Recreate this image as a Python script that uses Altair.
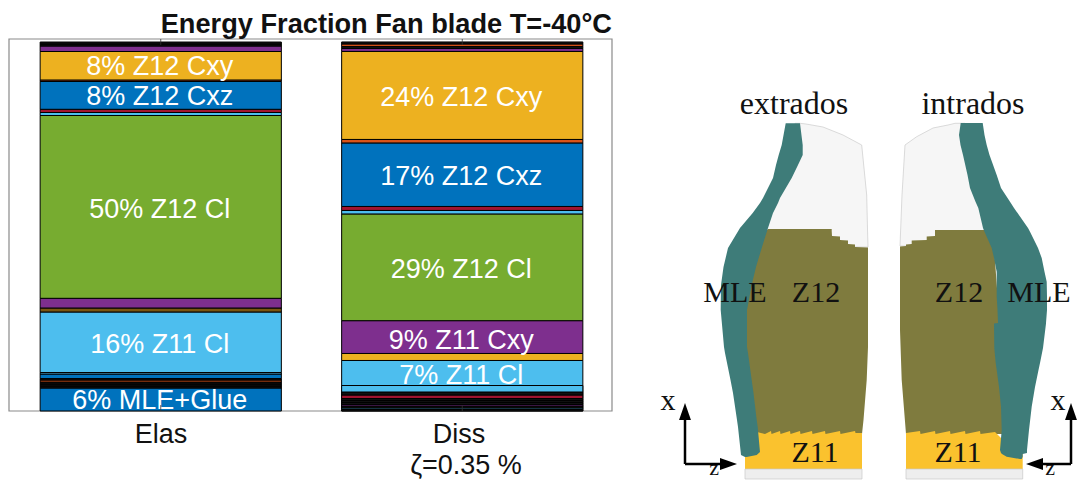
import altair as alt
import pandas as pd

FONT = "Liberation Sans"
SERIF = "Liberation Serif"

palette = {
    "blue": "#0072BD", "orange": "#D95319", "yellow": "#EDB120", "purple": "#7E2F8E",
    "green": "#77AC30", "sky": "#4DBEEE", "red": "#A2142F", "dark": "#111111", "brown": "#7A5510",
}

# stacked energy fractions, bottom to top (percent)
elas_values = [6.23, .54, .54, .54, .54, .41, 1.22, .41, 16.4, 1.08, 2.63, 49.54, .81, .87, 7.53, .41, 7.72, 1.49, .54, .54]
elas_colors = ["blue", "dark", "dark", "dark", "orange", "dark", "blue", "sky", "sky", "brown", "purple", "green", "sky", "red", "blue", "orange", "yellow", "purple", "dark", "dark"]
diss_values = [.41, .41, .54, .41, .54, .54, .54, .95, .81, 1.76, 6.78, 1.9, 8.89, 28.92, .95, 1.08, 17.21, .95, 23.85, .81, .54, .68, .54]
diss_colors = ["dark", "sky", "dark", "purple", "dark", "dark", "dark", "red", "dark", "sky", "sky", "yellow", "purple", "green", "sky", "red", "blue", "orange", "yellow", "purple", "dark", "orange", "dark"]

label_cat = ["Elas"] * 5 + ["Diss"] * 5
label_text = ["8% Z12 Cxy", "8% Z12 Cxz", "50% Z12 Cl", "16% Z11 Cl", "6% MLE+Glue",
              "24% Z12 Cxy", "17% Z12 Cxz", "29% Z12 Cl", "9% Z11 Cxy", "7% Z11 Cl"]
label_pos = [93.5, 85.4, 55.0, 18.4, 3.25, 85.1, 63.7, 38.75, 19.5, 10.0]


def segments(cat, values, colors):
    rows, base = [], 0.0
    for i, (v, c) in enumerate(zip(values, colors)):
        rows.append({"cat": cat, "i": i, "y0": base, "y1": base + v, "col": palette[c]})
        base += v
    return rows


bars = pd.DataFrame(segments("Elas", elas_values, elas_colors) + segments("Diss", diss_values, diss_colors))
over = bars[(bars.cat == "Diss") & (bars.i < 10)]
labels = pd.DataFrame({"cat": label_cat, "t": label_text, "p": label_pos})
ticks = pd.DataFrame({"cat": ["Elas", "Elas", "Diss", "Diss"], "a": [0, 100.81, 0, 100.81], "b": [1.6, 99.2, 1.6, 99.2]})

CAT = alt.Scale(domain=["Elas", "Diss"], range=[2, 605], paddingInner=0.2, paddingOuter=0.1)
PCT = alt.Scale(domain=[0, 100.81], range=[403, 31], nice=False, zero=False)
xs = alt.X("cat:N", scale=CAT, axis=None)


def pct(f):
    return alt.Y(f, scale=PCT, axis=None)


def bar_layer(d):
    return alt.Chart(d).mark_bar(stroke="#000", strokeWidth=1).encode(
        x=xs, y=pct("y0:Q"), y2="y1:Q", fill=alt.Fill("col:N", scale=None))


left = alt.layer(
    bar_layer(bars),
    alt.Chart(labels).mark_text(color="white", font=FONT, fontSize=27, dy=1.5, dx=-1).encode(
        x=xs, y=pct("p:Q"), text="t:N"),
    bar_layer(over),
    alt.Chart(ticks).mark_rule(color="#333", strokeWidth=0.8).encode(
        x=xs, y=pct("a:Q"), y2="b:Q"),
)

# ---- frame, captions and blade illustration in picture units ----
TEAL, OLIVE, GOLD, MESH = "#3E7C79", "#7F7B3E", "#FAC22E", "#F6F6F6"

frame_a, frame_b, frame_t, frame_u = [9], [612], [39], [411]

title_text, title_x, title_y = ["Energy Fraction Fan blade T=-40°C"], [612], [25]

cap_t = ["Elas", "Diss", "ζ=0.35 %"]
cap_x = [161, 459, 466]
cap_y = [435, 435, 466]

ext_teal_y = [123.3, 145, 155, 165, 178, 198, 203, 213, 228, 248, 267, 285, 310, 347, 353, 380, 393, 420, 427, 452, 455, 457]
ext_teal_a = [785.7, 781.7, 778.7, 776, 773, 763, 760, 752.7, 740, 728, 723.5, 721, 720.7, 724, 725, 730.5, 733, 737, 738, 740.7, 741, 745]
ext_teal_b = [800, 802.7, 802.7, 798, 791.7, 780, 778, 773, 768, 761.7, 756, 751.7, 747, 747, 748, 751.7, 753.5, 756.7, 757.7, 760, 756.7, 746.7]

ext_white_y = [123.3, 124, 127, 135, 145, 195, 229, 247]
ext_white_a = [795, 795, 795, 795, 795, 775, 765, 765]
ext_white_b = [800, 806, 823, 843, 861.7, 866.7, 867.5, 868]

ext_olive_y = [229, 231, 236, 236.5, 240, 240.5, 244, 244.5, 247, 247.5, 285, 347, 380, 420, 434]
ext_olive_a = [768, 766, 764, 764, 762, 762, 760, 760, 755, 755, 745, 740, 745, 750, 752]
ext_olive_b = [831.7, 831.7, 832, 840, 840, 848, 848, 855, 855, 868, 868, 868, 866.7, 863.5, 862]

ext_gold_x = [745, 752, 757, 765, 771, 771.5, 780, 780.5, 790, 790.5, 800, 800.5, 812, 812.5, 825, 825.5, 840, 840.5, 855, 855.5, 862]
ext_gold_y = [450, 440, 432, 434, 431, 434, 431, 434, 431, 434, 431, 434, 431, 434, 431, 434, 431, 434, 431, 433, 433]

int_teal_y = [123, 135, 145, 155, 175, 188, 201.7, 208, 228, 231.7, 248, 258, 271.7, 281.7, 296.7, 310, 323, 323.5, 348, 363, 370, 387, 406.7, 430, 450, 453, 454, 456.7, 459]
int_teal_a = [960.7, 959, 960.5, 963, 967.5, 970, 975.5, 978.3, 983, 984.5, 991.7, 994, 996.7, 996.7, 996.7, 997.5, 998, 994, 994.3, 995.7, 996.7, 999, 1001, 1001.7, 1000, 1001, 1002, 1006.7, 1020]
int_teal_b = [982.7, 984.5, 986.7, 989.5, 996.7, 1001, 1010, 1014, 1028, 1030, 1038, 1041.7, 1044.5, 1046.7, 1047, 1047, 1046, 1046, 1043, 1040, 1038.5, 1035, 1031.7, 1029, 1027, 1027, 1022.7, 1022.7, 1021.7]

int_white_y = [123.3, 125, 128, 136.7, 145, 195, 246]
int_white_a = [955, 948, 933, 916.7, 905, 902, 900]
int_white_b = [965, 965, 965, 965, 970, 978, 990]

int_olive_y = [230, 236, 236.5, 240, 240.5, 244, 244.5, 246, 246.5, 330, 380, 434]
int_olive_a = [935, 935, 926.7, 926.7, 911.7, 911.7, 906, 906, 900, 900, 901.7, 906]
int_olive_b = [985, 988, 988, 990, 990, 992, 992, 994, 994, 1000, 1003, 1005]

int_gold_x = [906, 920, 920.5, 935, 935.5, 950, 950.5, 965, 965.5, 980, 980.5, 995, 1003, 1022.7]
int_gold_y = [433, 431, 434, 431, 434, 431, 434, 431, 434, 431, 434, 432, 440, 450]

strip_a, strip_b, strip_top, strip_bottom = [745, 906], [862, 1022.7], [469, 469], [479, 479]

big_t, big_x, big_y = ["extrados", "intrados"], [794, 973], [104, 104]
text_t = ["MLE", "Z12", "Z12", "MLE", "Z11", "Z11", "x", "x"]
text_x = [735, 816, 959, 1039, 815, 958, 668, 1058]
text_y = [293, 293, 293, 293, 453, 453, 401, 401]
small_t, small_x, small_y = ["z", "z"], [714, 1050], [468, 468]

shaft_x = [685, 685, 1071, 1071]
shaft_x2 = [685, 722, 1071, 1041]
shaft_y = [464, 464, 464, 464]
shaft_y2 = [418, 464, 418, 464]

head_up_x, head_up_y = [685, 1071], [411.5, 411.5]
head_right_x, head_right_y = [728.5], [464]
head_left_x, head_left_y = [1034.5], [464]

PX = alt.Scale(domain=[8, 1077], range=[0, 1069], nice=False, zero=False)
PY = alt.Scale(domain=[480, 8], range=[472, 0], nice=False, zero=False)


def X(f):
    return alt.X(f, scale=PX, axis=None)


def Y(f):
    return alt.Y(f, scale=PY, axis=None)


def band(y, a, b, color, **kw):
    d = pd.DataFrame({"y": y, "a": a, "b": b})
    return alt.Chart(d).mark_area(orient="horizontal", color=color, **kw).encode(
        y=Y("y:Q"), x=X("a:Q"), x2="b:Q")


def gold(x, top):
    d = pd.DataFrame({"x": x, "t": top, "b": [469] * len(x)})
    return alt.Chart(d).mark_area(color=GOLD).encode(x=X("x:Q"), y=Y("t:Q"), y2="b:Q")


frame = alt.Chart(pd.DataFrame({"a": frame_a, "b": frame_b, "t": frame_t, "u": frame_u})).mark_rect(
    fill="white", stroke="#8a8a8a", strokeWidth=1.2).encode(x=X("a:Q"), x2="b:Q", y=Y("t:Q"), y2="u:Q")

strip = alt.Chart(pd.DataFrame({"a": strip_a, "b": strip_b, "t": strip_top, "u": strip_bottom})).mark_rect(
    fill="#EEEEEE", stroke="#C8C8C8", strokeWidth=0.7).encode(x=X("a:Q"), x2="b:Q", y=Y("t:Q"), y2="u:Q")

shafts = alt.Chart(pd.DataFrame({"a": shaft_x, "b": shaft_x2, "t": shaft_y, "u": shaft_y2})).mark_rule(
    color="#000", strokeWidth=2.5).encode(x=X("a:Q"), x2="b:Q", y=Y("t:Q"), y2="u:Q")


def head(x, y, path):
    return alt.Chart(pd.DataFrame({"x": x, "y": y})).mark_point(
        shape=path, size=289, filled=True, color="#000", opacity=1).encode(x=X("x:Q"), y=Y("y:Q"))


def serif(t, x, y, size):
    return alt.Chart(pd.DataFrame({"t": t, "x": x, "y": y})).mark_text(
        font=SERIF, fontSize=size, color="#111").encode(x=X("x:Q"), y=Y("y:Q"), text="t:N")


caps = alt.Chart(pd.DataFrame({"t": cap_t, "x": cap_x, "y": cap_y})).mark_text(
    font=FONT, fontSize=27, color="#111").encode(x=X("x:Q"), y=Y("y:Q"), text="t:N")
head_title = alt.Chart(pd.DataFrame({"t": title_text, "x": title_x, "y": title_y})).mark_text(
    font=FONT, fontSize=27.2, fontWeight="bold", color="#111", align="right").encode(x=X("x:Q"), y=Y("y:Q"), text="t:N")

under = alt.layer(frame, head_title, caps)

right = alt.layer(
    band(ext_white_y, ext_white_a, ext_white_b, MESH, stroke="#CCCCCC", strokeWidth=0.7),
    band(int_white_y, int_white_a, int_white_b, MESH, stroke="#CCCCCC", strokeWidth=0.7),
    band(ext_olive_y, ext_olive_a, ext_olive_b, OLIVE),
    band(int_olive_y, int_olive_a, int_olive_b, OLIVE),
    gold(ext_gold_x, ext_gold_y),
    gold(int_gold_x, int_gold_y),
    strip,
    band(ext_teal_y, ext_teal_a, ext_teal_b, TEAL),
    band(int_teal_y, int_teal_a, int_teal_b, TEAL),
    shafts,
    head(head_up_x, head_up_y, "M -0.7 1 L 0.7 1 L 0 -1 Z"),
    head(head_right_x, head_right_y, "M -1 -0.7 L 1 0 L -1 0.7 Z"),
    head(head_left_x, head_left_y, "M 1 -0.7 L -1 0 L 1 0.7 Z"),
    serif(big_t, big_x, big_y, 32),
    serif(text_t, text_x, text_y, 30),
    serif(small_t, small_x, small_y, 22),
)

chart = alt.layer(under, left, right).resolve_scale(x="independent", y="independent").properties(
    width=1069, height=472, padding=0, background="white",
    autosize=alt.AutoSizeParams(type="none", contains="padding"),
).configure_view(stroke=None)

chart.save("out.html", embed_options={"renderer": "svg", "actions": False})
